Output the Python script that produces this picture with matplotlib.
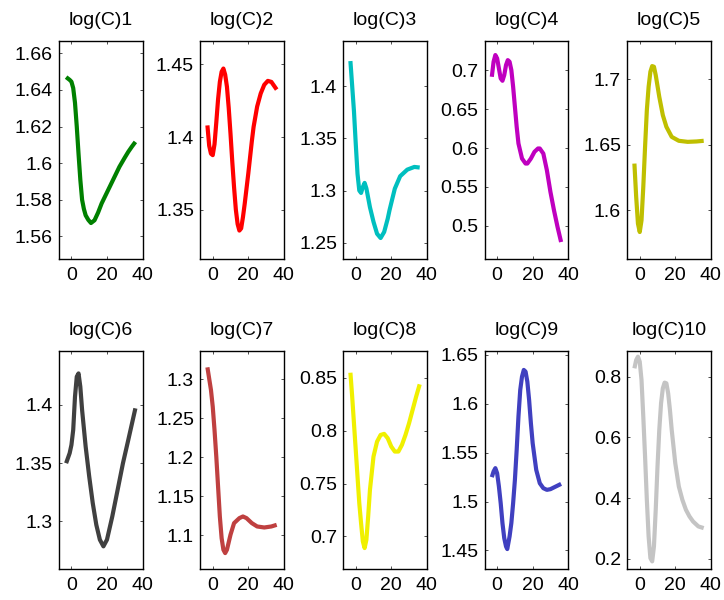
import numpy as np
import matplotlib
matplotlib.use("Agg")
import matplotlib.pyplot as plt
from matplotlib.ticker import FuncFormatter

plt.rcParams['font.family'] = ['Liberation Sans', 'DejaVu Sans']

# values, one (x, y) pair of lists per panel
x1 = [-3, -1, 0, 1, 2, 3, 4, 5, 6, 7, 8, 9.5, 11, 13, 15, 17, 20, 22, 25, 27, 30, 32, 34, 36]
y1 = [1.647, 1.6455, 1.6445, 1.641, 1.633, 1.620, 1.605, 1.591, 1.580, 1.575, 1.5715, 1.569,
      1.5673, 1.5688, 1.573, 1.578, 1.584, 1.588, 1.594, 1.598, 1.603, 1.6062, 1.609, 1.6116]

x2 = [-3, -2, -1, 0, 1, 2, 3, 4, 5, 6, 7, 8, 9, 10, 11, 12, 13, 14, 15, 16, 17, 18, 20, 22,
      23, 25, 27, 29, 31, 33, 36]
y2 = [1.408, 1.394, 1.3885, 1.3875, 1.395, 1.41, 1.426, 1.438, 1.445, 1.4472, 1.443, 1.4346,
      1.42, 1.4023, 1.383, 1.3654, 1.35, 1.340, 1.3355, 1.337, 1.3447, 1.354, 1.3747, 1.397,
      1.407, 1.421, 1.430, 1.436, 1.4387, 1.438, 1.4327]

x3 = [-3, -2, -1, 0, 1, 2, 3, 4, 5, 6, 7, 8, 10, 12, 14, 16, 18, 19, 20, 22, 25, 29, 33, 36]
y3 = [1.424, 1.40, 1.376, 1.345, 1.316, 1.300, 1.2977, 1.3034, 1.3073, 1.302, 1.293, 1.284,
      1.270, 1.2586, 1.2545, 1.2603, 1.273, 1.281, 1.288, 1.3018, 1.3137, 1.320, 1.3226, 1.322]

x4 = [-3, -2, -1, 0, 1, 2, 3, 4, 5, 6, 7, 8, 9, 10, 11, 12, 14, 16, 17, 19, 21, 23, 24, 26,
      28, 30, 32, 34, 36]
y4 = [0.6914, 0.7107, 0.7193, 0.715, 0.7021, 0.6893, 0.6863, 0.6936, 0.7064, 0.7128, 0.7107,
      0.700, 0.6786, 0.6529, 0.6272, 0.6058, 0.5865, 0.5801, 0.5801, 0.5865, 0.5951, 0.5994,
      0.5994, 0.5929, 0.5715, 0.5437, 0.5201, 0.4987, 0.4794]

x5 = [-3, -2, -1, 0, 1, 2, 3, 4, 5, 6, 7, 8, 9, 11, 13, 15, 18, 22, 27, 32, 36]
y5 = [1.6357, 1.6102, 1.5898, 1.5834, 1.5923, 1.6179, 1.6485, 1.6765, 1.6944, 1.7059, 1.7102,
      1.7097, 1.7033, 1.6867, 1.6727, 1.6638, 1.6561, 1.6531, 1.6523, 1.6526, 1.6531]

x6 = [-3, -1, 0, 1, 2, 3, 4, 5, 6, 8, 10, 12, 14, 16, 18, 20, 23, 26, 29, 32, 36]
y6 = [1.350, 1.3586, 1.3657, 1.3786, 1.4071, 1.4243, 1.4271, 1.4157, 1.3957, 1.3643, 1.3386,
      1.3157, 1.2971, 1.2843, 1.2786, 1.2843, 1.3043, 1.3271, 1.350, 1.370, 1.3971]

x7 = [-3, -1, 0, 1, 2, 3, 4, 5, 6, 7, 8, 10, 12, 15, 17, 19, 22, 25, 29, 33, 36]
y7 = [1.3154, 1.2864, 1.265, 1.2352, 1.2011, 1.1627, 1.1243, 1.0966, 1.0817, 1.0774, 1.0817,
      1.1009, 1.1158, 1.1222, 1.1243, 1.1222, 1.1158, 1.1115, 1.1102, 1.1115, 1.1136]

x8 = [-3, -2, -1, 0, 1, 2, 3, 4, 5, 6, 7, 8, 10, 12, 14, 16, 18, 20, 22, 24, 26, 28, 30, 32,
      34, 36]
y8 = [0.8547, 0.8321, 0.8069, 0.7818, 0.7566, 0.7314, 0.7126, 0.6953, 0.689, 0.6969, 0.7189,
      0.744, 0.7755, 0.7896, 0.7959, 0.7969, 0.7928, 0.7849, 0.7802, 0.7802, 0.7865, 0.7959,
      0.8069, 0.8195, 0.8321, 0.8437]

x9 = [-3, -2, -1, 0, 1, 2, 3, 4, 5, 5.7, 7, 8, 9, 10, 11, 12, 13, 14, 15, 16, 17, 18, 19, 20,
      22, 24, 26, 28, 30, 33, 36]
y9 = [1.525, 1.5308, 1.5342, 1.529, 1.5154, 1.4984, 1.4779, 1.4626, 1.4541, 1.4514, 1.4643,
      1.478, 1.4984, 1.5222, 1.5529, 1.587, 1.6142, 1.6279, 1.6347, 1.633, 1.6227, 1.604,
      1.5802, 1.5597, 1.5325, 1.5188, 1.5137, 1.512, 1.5127, 1.5154, 1.5181]

x10 = [-3, -2, -1, 0, 1, 2, 3, 4, 5, 6, 7, 8, 9, 10, 11, 12, 13, 14, 15, 16, 17, 18, 20, 22,
       24, 26, 28, 30, 33, 36]
y10 = [0.8274, 0.8548, 0.8657, 0.8493, 0.789, 0.6686, 0.5371, 0.3947, 0.2743, 0.203, 0.1921,
       0.2414, 0.3619, 0.5043, 0.6248, 0.7124, 0.7617, 0.7803, 0.7781, 0.7452, 0.6905, 0.6248,
       0.5152, 0.4386, 0.3947, 0.3619, 0.34, 0.3235, 0.3071, 0.3016]

titles = ['log(C)%d' % i for i in range(1, 11)]
colors = ['#008000', '#ff0000', '#00bfbf', '#bf00bf', '#bfbf00',
          '#404040', '#bf4040', '#f0f000', '#4040c0', '#c4c4c4']
ylims = [(1.5478, 1.6669), (1.3161, 1.4664), (1.2347, 1.4435), (0.458, 0.7377), (1.563, 1.7296),
         (1.2594, 1.4466), (1.0574, 1.3367), (0.6695, 0.8755), (1.4313, 1.6544), (0.168, 0.8854)]
yticks = [np.arange(1.56, 1.661, 0.02), [1.35, 1.4, 1.45], np.arange(1.25, 1.401, 0.05),
          np.arange(0.5, 0.701, 0.05), [1.6, 1.65, 1.7], [1.3, 1.35, 1.4],
          np.arange(1.1, 1.301, 0.05), np.arange(0.7, 0.851, 0.05),
          np.arange(1.45, 1.651, 0.05), np.arange(0.2, 0.81, 0.2)]

xs = [x1, x2, x3, x4, x5, x6, x7, x8, x9, x10]
ys = [y1, y2, y3, y4, y5, y6, y7, y8, y9, y10]

fig = plt.figure(figsize=(7.24, 6.0), dpi=100)
W, H = 724.0, 600.0
lefts = [59, 200.3, 343.3, 484.7, 627.3]
tops = [40.7, 350.7]
aw, ah = 83.5, 218

for i in range(10):
    r, c = divmod(i, 5)
    ax = fig.add_axes([lefts[c] / W, 1 - (tops[r] + ah) / H, aw / W, ah / H])
    ax.plot(xs[i], ys[i], color=colors[i], lw=3, solid_capstyle='butt')
    ax.set_xlim(-7, 40)
    ax.set_ylim(*ylims[i])
    ax.set_xticks([0, 20, 40])
    ax.set_yticks(yticks[i])
    ax.yaxis.set_major_formatter(FuncFormatter(lambda v, p: '%g' % round(v, 3)))
    ax.tick_params(direction='in', top=True, right=True, length=2.2, width=0.6,
                   color='#333333', labelsize=14, labelcolor='black')
    ax.tick_params(axis='y', pad=4.5)
    ax.tick_params(axis='x', pad=6)
    for s in ax.spines.values():
        s.set_linewidth(1.0)
    ax.set_title(titles[i], fontsize=14, pad=11)

fig.savefig('out.png', dpi=100)
